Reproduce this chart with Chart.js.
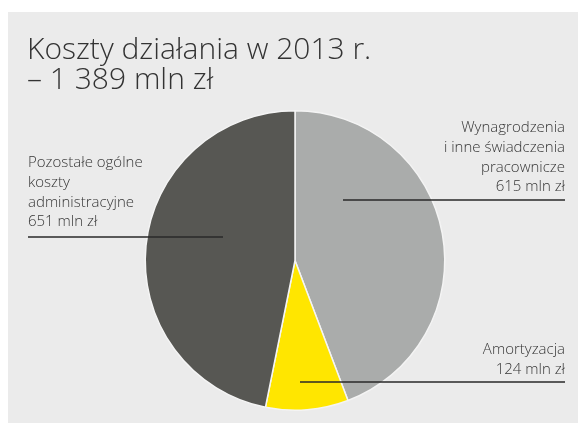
<!DOCTYPE html>
<html lang="pl">
<head>
<meta charset="utf-8">
<title>Koszty działania w 2013 r.</title>
<script src="https://cdn.jsdelivr.net/npm/chart.js@4"></script>
<style>
    html, body { margin: 0; padding: 0; background: #ffffff; }
    #wrap { width: 578px; height: 425px; position: relative; }
</style>
</head>
<body>
<div id="wrap"><canvas id="pie-chart" width="578" height="425"></canvas></div>
<script>
// 数据
const categories = [
    'Wynagrodzenia i inne świadczenia pracownicze',
    'Amortyzacja',
    'Pozostałe ogólne koszty administracyjne'
];
const costValues = [615, 124, 651];
const sliceColors = ['#aaacab', '#ffe600', '#575753'];
const titleLines = ['Koszty działania w 2013 r.', '– 1 389 mln zł'];
const labelLines = [
    ['Wynagrodzenia', 'i inne świadczenia', 'pracownicze', '615 mln zł'],
    ['Amortyzacja', '124 mln zł'],
    ['Pozostałe ogólne', 'koszty', 'administracyjne', '651 mln zł']
];

const FONT = '"Open Sans", "DejaVu Sans", sans-serif';

// 背景面板 + 标题
const panelPlugin = {
    id: 'panel',
    beforeDraw(chart) {
        const ctx = chart.ctx;
        ctx.save();
        ctx.fillStyle = '#ebebeb';
        ctx.fillRect(8, 12, chart.width - 8, chart.height - 14);
        ctx.fillStyle = '#333333';
        ctx.font = '300 30px ' + FONT;
        ctx.textBaseline = 'middle';
        ctx.textAlign = 'left';
        titleLines.forEach((t, i) => ctx.fillText(t, 27, 50 + i * 30));
        ctx.restore();
    }
};

// 标签和引线
const labelPlugin = {
    id: 'sliceLabels',
    afterDatasetsDraw(chart) {
        const ctx = chart.ctx;
        const arcs = chart.getDatasetMeta(0).data;
        const cx = arcs[0].x;
        // 每个标签: 文字位置, 引线 y, 引线内端 (相对圆心)
        const layout = [
            { x: 565, y: 128, align: 'right', lineY: 200, from: cx + 48, to: 565 },
            { x: 565, y: 350, align: 'right', lineY: 382, from: cx + 5, to: 565 },
            { x: 28, y: 163, align: 'left', lineY: 237, from: 28, to: cx - 72 }
        ];
        ctx.save();
        ctx.font = '300 15px ' + FONT;
        ctx.textBaseline = 'middle';
        layout.forEach((l, i) => {
            ctx.fillStyle = '#363636';
            ctx.textAlign = l.align;
            labelLines[i].forEach((t, j) => ctx.fillText(t, l.x, l.y + j * 19.7));
            ctx.strokeStyle = 'rgba(40, 40, 40, 0.75)';
            ctx.lineWidth = 2;
            ctx.beginPath();
            ctx.moveTo(l.from, l.lineY);
            ctx.lineTo(l.to, l.lineY);
            ctx.stroke();
        });
        ctx.restore();
    }
};

// 创建图表
window.pieChart = new Chart(document.getElementById('pie-chart'), {
    type: 'pie',
    data: {
        labels: categories,
        datasets: [{
            data: costValues,
            backgroundColor: sliceColors,
            borderColor: '#f4f4f4',
            borderWidth: 1.5
        }]
    },
    options: {
        responsive: false,
        animation: false,
        layout: {
            padding: { left: 144, right: 132, top: 110, bottom: 14 }
        },
        plugins: {
            legend: { display: false },
            tooltip: { enabled: false },
            title: { display: false }
        }
    },
    plugins: [panelPlugin, labelPlugin]
});
</script>
</body>
</html>
